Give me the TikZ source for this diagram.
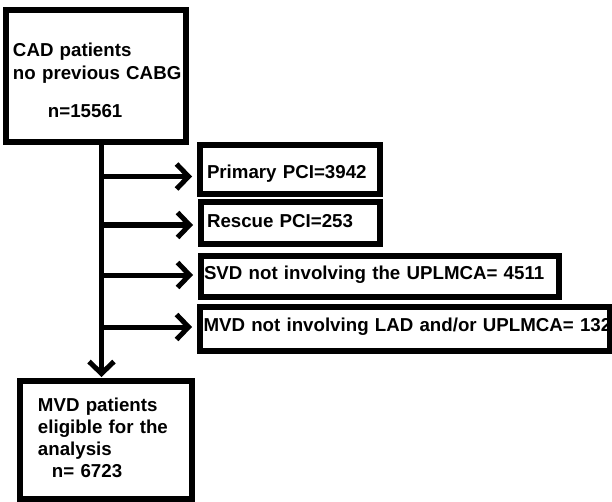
\documentclass[tikz,border=0pt]{standalone}
\usepackage{fontspec}
\setmainfont{Liberation Sans}
\usetikzlibrary{arrows.meta, positioning}

\begin{document}
\begin{tikzpicture}[x=1bp, y=-1bp,
	box/.style={draw, line width=6bp, inner xsep=0pt, inner ysep=0pt, align=left,
		font=\fontsize{18.7bp}{23bp}\selectfont\bfseries},
	sbox/.style={box, text height=13.4bp},
	arr/.style={line width=5bp, -{Straight Barb[length=12bp, width=25bp]}}]
	\useasboundingbox (0,0) rectangle (612,502);
	% boxes
	\node[box, minimum width=180bp, minimum height=132bp, text width=166bp] (cad) at (96,76)
		{\rule{0pt}{23bp}CAD patients\\\mbox{no previous CABG}\\[15bp]\hspace*{35bp}n=15561};
	\node[sbox, text height=17.6bp, text depth=0bp, minimum width=180bp, minimum height=49bp, text width=166bp] (prim) at (290,169.5)
		{\mbox{Primary PCI=3942}};
	\node[sbox, text depth=4.6bp, minimum width=179bp, minimum height=42bp, text width=167bp] (resc) at (290.5,223.3)
		{\mbox{Rescue PCI=253}};
	\node[sbox, text depth=8.8bp, minimum width=358bp, minimum height=41bp, text width=352bp] (svd) at (380,276.7)
		{\mbox{SVD not involving the UPLMCA= 4511}};
	\node[sbox, text depth=8bp, minimum width=410bp, minimum height=44bp, text width=403bp] (mvd) at (405,329)
		{\mbox{MVD not involving LAD and/or UPLMCA= 132}};
	\node[box, font=\fontsize{18.7bp}{22bp}\selectfont\bfseries, minimum width=172bp, minimum height=118bp, text width=136bp] (elig) at (106,440)
		{\mbox{MVD patients}\\\mbox{eligible for the}\\analysis\\\hspace*{14bp}n= 6723\rule[-3.6bp]{0pt}{0pt}};
	% connectors
	\coordinate (spine) at (101.5,0);
	\coordinate (in1) at ([yshift=-7bp]prim.west);
	\coordinate (in2) at ([yshift=-1.7bp]resc.west);
	\coordinate (in3) at ([yshift=1.7bp]svd.west);
	\coordinate (in4) at ([yshift=2bp]mvd.west);
	\draw[arr, shorten >=1bp] (cad.south -| spine) -- (elig.north -| spine);
	\foreach \t in {in1,in2,in3,in4}
		\draw[arr, shorten >=5bp] (spine |- \t) -- (\t);
\end{tikzpicture}
\end{document}
